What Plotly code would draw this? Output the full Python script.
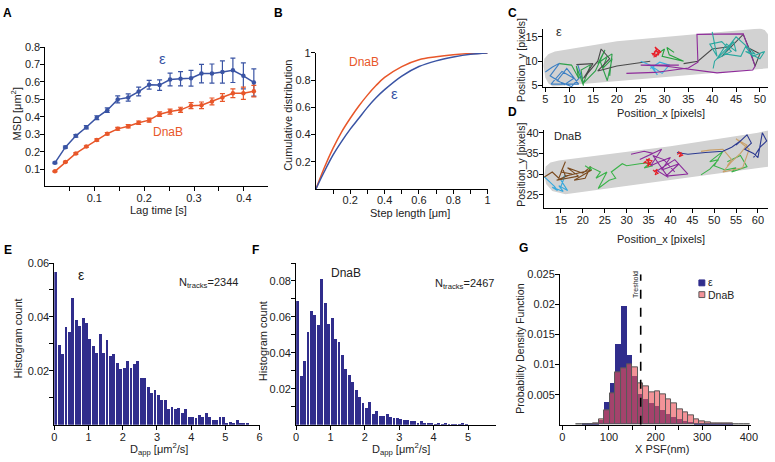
import plotly.graph_objects as go

FONT = "Liberation Sans, Arial, sans-serif"
W, H = 775, 462
BLUE = "#3A54A4"
ORANGE = "#E8572A"
NAVY = "#302D8C"
PINK = "rgba(236,80,88,0.62)"
TXT = "#222222"

# ---------------- A : MSD ----------------
lag_time = [0.021, 0.042, 0.063, 0.084, 0.105, 0.126, 0.147, 0.168, 0.189, 0.210,
            0.231, 0.252, 0.273, 0.294, 0.315, 0.336, 0.357, 0.378, 0.399, 0.420]
msd_eps = [0.136, 0.226, 0.291, 0.340, 0.395, 0.438, 0.500, 0.511, 0.545, 0.584,
           0.582, 0.614, 0.618, 0.621, 0.648, 0.648, 0.657, 0.667, 0.635, 0.597]
msd_eps_err = [0.004, 0.006, 0.007, 0.009, 0.011, 0.013, 0.020, 0.021, 0.025, 0.025,
               0.030, 0.037, 0.041, 0.045, 0.053, 0.055, 0.064, 0.070, 0.075, 0.078]
msd_dnab = [0.087, 0.141, 0.190, 0.229, 0.267, 0.303, 0.331, 0.346, 0.366, 0.381,
            0.415, 0.430, 0.440, 0.464, 0.466, 0.488, 0.511, 0.535, 0.535, 0.547]
msd_dnab_err = [0.003, 0.004, 0.005, 0.005, 0.006, 0.007, 0.008, 0.009, 0.010, 0.011,
                0.013, 0.014, 0.015, 0.017, 0.019, 0.020, 0.022, 0.025, 0.035, 0.033]

# ---------------- B : cumulative distribution ----------------
step_length = [0.0, 0.05, 0.10, 0.15, 0.20, 0.25, 0.30, 0.35, 0.40, 0.50, 0.60, 0.70, 0.80, 0.90, 1.00]
cdf_dnab = [0.0, 0.16, 0.30, 0.42, 0.52, 0.61, 0.69, 0.76, 0.82, 0.90, 0.95, 0.972, 0.987, 0.996, 1.0]
cdf_eps = [0.0, 0.13, 0.25, 0.35, 0.44, 0.52, 0.60, 0.67, 0.73, 0.83, 0.90, 0.942, 0.970, 0.990, 1.0]

# ---------------- C : epsilon tracks ----------------
cell_c_x = [6.6, 20.0, 35.0, 50.5, 52.5, 52.5, 51.0, 50.0, 35.0, 20.0, 7.0, 5.6, 4.8, 4.6, 5.0, 5.7, 6.6]
cell_c_y = [4.8, 5.9, 7.1, 8.3, 8.6, 14.5, 16.4, 16.7, 15.4, 14.1, 12.0, 11.4, 10.5, 9.0, 6.6, 5.4, 4.8]
tracks_c = {
    "#3B7FC4": ([5.0, 6.5, 8.0, 6.0, 9.0, 11.0, 8.5, 6.2, 12.0, 9.5, 7.5, 10.5, 12.5, 11.8, 13.0],
                [7.8, 8.8, 9.6, 7.0, 5.2, 6.5, 7.9, 5.3, 5.3, 8.5, 6.0, 4.8, 7.0, 9.3, 5.5]),
    "#2EA04A": ([8.0, 10.5, 12.0, 11.5, 13.0, 12.5, 14.5, 13.0, 15.5, 17.5, 16.0, 18.0, 17.0, 19.0, 18.0, 16.5, 19.0, 18.5],
                [9.5, 9.2, 6.5, 9.0, 5.0, 8.2, 9.3, 5.5, 8.0, 12.3, 9.5, 11.0, 8.5, 10.5, 6.0, 10.0, 11.5, 7.0]),
    "#4A4A4A": ([11.5, 15.0, 13.0, 16.0, 16.7, 18.5, 16.0, 20.0, 27.0, None,
                 34.0, 37.0, 40.0, 44.0, 42.0, 46.5, 48.0, 49.0, 50.0, 47.0],
                [9.3, 9.5, 6.5, 10.0, 12.5, 10.5, 8.0, 9.0, 10.0, None,
                 9.5, 10.0, 12.5, 13.0, 11.0, 15.5, 12.0, 9.0, 11.5, 13.0]),
    "#3AAFE0": ([25.0, 27.0, 28.5, 27.5, 29.5, 31.0, 29.0, 27.0],
                [10.0, 9.2, 7.2, 8.8, 7.5, 9.2, 9.8, 8.5]),
    "#8E2B9A": ([22.0, 28.0, 35.0, 37.0, 36.8, 46.5, 49.0, 48.5, 41.0, 30.0, 25.0, 33.0],
                [7.5, 7.7, 8.6, 9.8, 15.5, 15.6, 9.0, 8.2, 7.6, 9.0, 9.2, 9.2]),
    "#2AA8A0": ([40.0, 41.0, 39.5, 42.0, 44.0, 41.0, 43.0, 45.0, 44.5, 42.5, 46.0, 47.0, 48.5, 51.0, 50.0, 47.0, 49.0, 45.0, 43.0, 40.5, 40.2],
                [16.0, 11.0, 13.5, 14.0, 12.0, 10.5, 13.5, 12.0, 14.0, 11.5, 11.0, 13.0, 11.0, 12.0, 10.5, 12.0, 11.5, 15.0, 12.5, 10.0, 8.5]),
    "#27A33F": ([28.5, 30.0, 29.5, 34.0, 31.0, 30.5, 32.0],
                [11.5, 12.5, 11.0, 10.0, 11.3, 12.8, 11.8]),
    "#E8202A": ([27.5, 28.5, 27.8, 29.0, 28.2, 27.3, 28.8, 28.0, 29.2, 27.7],
                [11.2, 12.6, 11.8, 12.2, 10.9, 11.6, 11.3, 12.9, 11.9, 10.8]),
}

# ---------------- D : DnaB tracks ----------------
cell_d_x = [16.0, 40.0, 62.5, 62.5, 60.0, 40.0, 14.5, 12.6, 11.5, 11.2, 11.6, 13.0, 16.0]
cell_d_y = [25.1, 28.6, 31.8, 40.6, 40.0, 36.7, 33.3, 32.8, 31.8, 29.8, 27.6, 25.9, 25.1]
tracks_d = {
    "#35A8DD": ([11.2, 12.5, 13.5, 14.2, 13.0, 15.5, 14.5, 16.5, 15.0, 16.0, 14.8],
                [29.3, 28.0, 27.0, 26.0, 26.8, 25.8, 27.2, 26.0, 28.5, 29.8, 26.5]),
    "#7A4A1E": ([11.2, 13.0, 14.5, 16.0, 15.0, 17.5, 14.0, 19.0, 16.5, 20.0, 21.8, 20.5, 18.0, 22.0, 16.0, 15.5],
                [29.3, 30.5, 29.0, 33.0, 30.5, 30.0, 28.5, 29.5, 31.5, 30.2, 31.8, 29.0, 28.5, 31.0, 29.5, 31.0]),
    "#3BB34A": ([20.5, 22.0, 21.5, 24.0, 23.0, 25.5, 23.5, 26.0, 27.5, 26.5, 29.0, 30.0, 33.0, 35.5, 34.0, 36.0, None,
                 47.0, 49.0, 51.0, 49.0, 52.0, 50.0, 52.5, 55.0, 54.0, 57.5, 56.0, 53.0],
                [32.0, 31.0, 31.8, 30.5, 29.0, 30.5, 26.5, 28.5, 29.0, 30.5, 32.5, 32.0, 32.5, 32.8, 31.5, 32.0, None,
                 29.8, 31.2, 33.5, 33.0, 35.5, 32.0, 31.0, 31.5, 30.5, 31.8, 34.5, 33.0]),
    "#8B2A9B": ([31.0, 34.0, 36.0, 33.0, 38.0, 35.5, 37.5, 40.0, 38.0, 42.0, 39.0, 44.0, 41.0, 37.0, 39.5, 36.0, 38.5, 41.0],
                [34.8, 35.5, 35.0, 33.5, 36.0, 32.0, 33.0, 34.0, 31.0, 32.5, 29.5, 30.0, 33.5, 30.8, 29.2, 34.5, 33.5, 30.5]),
    "#C9A06A": ([47.0, 49.0, 52.0, 54.0, 53.0, 56.0, 57.5, 55.0, 58.0, 56.5, 52.0, 54.0],
                [35.5, 35.8, 36.0, 33.5, 32.0, 35.0, 37.0, 38.5, 36.0, 31.5, 30.5, 33.0]),
    "#2B3990": ([41.5, 44.0, 48.0, 52.0, 54.0, 56.0, 55.0, 57.5, 58.5, 57.0, 59.0, 60.0, 61.0, 62.0, 60.5, 59.0],
                [35.2, 34.8, 35.2, 35.5, 36.5, 38.0, 37.0, 39.5, 37.5, 36.0, 35.0, 34.0, 40.0, 38.0, 36.5, 34.0]),
    "#E41E26": ([34.0, 35.5, 34.5, 35.8, 34.8, 35.2, 33.8, None, 36.0, 37.2, 36.5, 37.0, 36.2, None, 41.5, 42.5, 42.0, 42.8, 41.8],
                [33.0, 32.2, 33.6, 33.2, 31.8, 33.8, 32.6, None, 31.0, 30.2, 29.8, 31.2, 30.5, None, 34.8, 35.2, 34.2, 34.6, 35.5]),
}

# ---------------- E / F : D_app histograms ----------------
dapp_bins_e = [0.05, 0.15, 0.25, 0.35, 0.45, 0.55, 0.65, 0.75, 0.85, 0.95,
               1.05, 1.15, 1.25, 1.35, 1.45, 1.55, 1.65, 1.75, 1.85, 1.95,
               2.05, 2.15, 2.25, 2.35, 2.45, 2.55, 2.65, 2.75, 2.85, 2.95,
               3.05, 3.15, 3.25, 3.35, 3.45, 3.55, 3.65, 3.75, 3.85, 3.95,
               4.05, 4.15, 4.25, 4.35, 4.45, 4.55, 4.65, 4.75, 4.85, 4.95,
               5.05, 5.15, 5.25, 5.35, 5.45, 5.55, 5.65]
hist_eps = [0.0566, 0.0295, 0.0262, 0.0363, 0.0343, 0.0471, 0.0387, 0.0365, 0.0397, 0.0376,
            0.0318, 0.0291, 0.0267, 0.0337, 0.0265, 0.0315, 0.0256, 0.0263, 0.0230, 0.0206,
            0.0210, 0.0236, 0.0210, 0.0224, 0.0236, 0.0172, 0.0172, 0.0139, 0.0117, 0.0127,
            0.0109, 0.0093, 0.0091, 0.0058, 0.0064, 0.0058, 0.0062, 0.0042, 0.0058, 0.0030,
            0.0030, 0.0024, 0.0036, 0.0027, 0.0042, 0.0030, 0.0018, 0.0016, 0.0027, 0.0027,
            0.0008, 0.0010, 0.0007, 0.0018, 0.0008, 0.0007, 0.0004]
dapp_bins_f = [0.05, 0.15, 0.25, 0.35, 0.45, 0.55, 0.65, 0.75, 0.85, 0.95,
               1.05, 1.15, 1.25, 1.35, 1.45, 1.55, 1.65, 1.75, 1.85, 1.95,
               2.05, 2.15, 2.25, 2.35, 2.45, 2.55, 2.65, 2.75, 2.85, 2.95,
               3.05, 3.15, 3.25, 3.35, 3.45, 3.55, 3.65, 3.75, 3.85, 3.95,
               4.05, 4.15, 4.25, 4.35, 4.45, 4.55, 4.65, 4.75, 4.85, 4.95]
hist_dnab = [0.0690, 0.0272, 0.0354, 0.0518, 0.0635, 0.0612, 0.0554, 0.0812, 0.0676, 0.0559,
             0.0595, 0.0477, 0.0459, 0.0390, 0.0308, 0.0278, 0.0236, 0.0194, 0.0154, 0.0123,
             0.0092, 0.0125, 0.0058, 0.0078, 0.0048, 0.0048, 0.0062, 0.0045, 0.0040, 0.0035,
             0.0030, 0.0028, 0.0028, 0.0018, 0.0018, 0.0010, 0.0020, 0.0012, 0.0008, 0.0006,
             0.0004, 0.0006, 0.0002, 0.0006, 0.0003, 0.0002, 0.0002, 0.0003, 0.0006, 0.0002]
n_tracks_eps = 2344
n_tracks_dnab = 2467

# ---------------- G : X PSF ----------------
psf_bins = [36, 48, 60, 72, 84, 96, 108, 120, 132, 144, 156, 168, 180, 192, 204, 216, 228,
            240, 252, 264, 276, 288, 300, 312, 324, 336, 348, 360, 372, 384, 396]
pdf_eps = [0.0000, 0.0001, 0.0001, 0.0002, 0.0008, 0.0037, 0.0068, 0.0134, 0.0196, 0.0116,
           0.0080, 0.0050, 0.0042, 0.0036, 0.0030, 0.0024, 0.0018, 0.0013, 0.0009, 0.0006,
           0.0004, 0.0003, 0.0002, 0.0002, 0.0001, 0.0001, 0.0001, 0.0001, 0.0000, 0.0000, 0.0000]
pdf_dnab = [0.0000, 0.0001, 0.0001, 0.0003, 0.0009, 0.0024, 0.0052, 0.0087, 0.0093, 0.0101,
            0.0095, 0.0068, 0.0064, 0.0054, 0.0055, 0.0050, 0.0042, 0.0035, 0.0026, 0.0020,
            0.0015, 0.0009, 0.0005, 0.0004, 0.0003, 0.0003, 0.0002, 0.0002, 0.0001, 0.0001, 0.0001]
threshold = 168


def dom_x(p0, p1):
    return [p0 / W, p1 / W]


def dom_y(top, bottom):
    return [1 - bottom / H, 1 - top / H]


def axis(domain, rng, anchor, tickvals, ticktext=None, minor_vals=None, standoff=-2):
    d = dict(domain=domain, range=rng, anchor=anchor, showline=True, linecolor="black",
             linewidth=1, ticks="outside", ticklen=4, tickwidth=1, tickcolor="black",
             showgrid=False, zeroline=False, fixedrange=True, ticklabelstandoff=standoff,
             tickfont=dict(size=11, color=TXT, family=FONT),
             tickmode="array", tickvals=tickvals,
             ticktext=ticktext if ticktext is not None else [str(v) for v in tickvals])
    if minor_vals is not None:
        d["minor"] = dict(tickmode="array", tickvals=minor_vals, ticks="outside", ticklen=4,
                          tickwidth=1, tickcolor="black", showgrid=False)
    return d


fig = go.Figure()

# A
fig.add_trace(go.Scatter(x=lag_time, y=msd_eps, mode="lines+markers", xaxis="x", yaxis="y",
                         line=dict(color=BLUE, width=1.5), marker=dict(size=4.5, color=BLUE),
                         error_y=dict(type="data", array=msd_eps_err, color=BLUE, thickness=1.2, width=2.5),
                         showlegend=False))
fig.add_trace(go.Scatter(x=lag_time, y=msd_dnab, mode="lines+markers", xaxis="x", yaxis="y",
                         line=dict(color=ORANGE, width=1.5), marker=dict(size=4.5, color=ORANGE),
                         error_y=dict(type="data", array=msd_dnab_err, color=ORANGE, thickness=1.2, width=2.5),
                         showlegend=False))
# B
fig.add_trace(go.Scatter(x=step_length, y=cdf_dnab, mode="lines", xaxis="x2", yaxis="y2",
                         line=dict(color=ORANGE, width=1.5, shape="spline"), showlegend=False))
fig.add_trace(go.Scatter(x=step_length, y=cdf_eps, mode="lines", xaxis="x2", yaxis="y2",
                         line=dict(color=BLUE, width=1.5, shape="spline"), showlegend=False))
# C
fig.add_trace(go.Scatter(x=cell_c_x, y=cell_c_y, mode="lines", fill="toself", fillcolor="#D2D2D2",
                         line=dict(width=0, color="#D2D2D2"), xaxis="x3", yaxis="y3", showlegend=False,
                         hoverinfo="skip"))
for col, (tx, ty) in tracks_c.items():
    fig.add_trace(go.Scatter(x=tx, y=ty, mode="lines", line=dict(color=col, width=1.1),
                             xaxis="x3", yaxis="y3", showlegend=False))
# D
fig.add_trace(go.Scatter(x=cell_d_x, y=cell_d_y, mode="lines", fill="toself", fillcolor="#D2D2D2",
                         line=dict(width=0, color="#D2D2D2"), xaxis="x4", yaxis="y4", showlegend=False,
                         hoverinfo="skip"))
for col, (tx, ty) in tracks_d.items():
    fig.add_trace(go.Scatter(x=tx, y=ty, mode="lines", line=dict(color=col, width=1.1),
                             xaxis="x4", yaxis="y4", showlegend=False))
# E, F
fig.add_trace(go.Bar(x=dapp_bins_e, y=hist_eps, width=0.084, marker=dict(color=NAVY, line=dict(width=0)),
                     xaxis="x5", yaxis="y5", showlegend=False))
fig.add_trace(go.Bar(x=dapp_bins_f, y=hist_dnab, width=0.084, marker=dict(color=NAVY, line=dict(width=0)),
                     xaxis="x6", yaxis="y6", showlegend=False))
# G
fig.add_trace(go.Bar(x=psf_bins, y=pdf_eps, width=12, name="ε", showlegend=False,
                     marker=dict(color=NAVY, line=dict(width=0)), xaxis="x7", yaxis="y7"))
fig.add_trace(go.Bar(x=psf_bins, y=pdf_dnab, width=12, name="DnaB", showlegend=False,
                     marker=dict(color=PINK, line=dict(width=1, color="#5A5A5A")),
                     xaxis="x7", yaxis="y7"))

fig.update_layout(
    width=W, height=H, margin=dict(l=0, r=0, t=0, b=0),
    paper_bgcolor="white", plot_bgcolor="rgba(0,0,0,0)",
    font=dict(family=FONT, size=11, color=TXT),
    barmode="overlay", bargap=0, showlegend=False,
    xaxis=axis(dom_x(43, 268), [0.002, 0.4475], "y", [0.1, 0.2, 0.3, 0.4], None,
               [0.05, 0.15, 0.25, 0.35]),
    yaxis=axis(dom_y(42, 184), [0.003, 0.8], "x", [0.1, 0.2, 0.3, 0.4, 0.5, 0.6, 0.7, 0.8]),
    xaxis2=axis(dom_x(317, 491), [0, 1], "y2", [0.2, 0.4, 0.6, 0.8, 1.0],
                ["0.2", "0.4", "0.6", "0.8", "1"], [0.1, 0.3, 0.5, 0.7, 0.9], standoff=-3),
    yaxis2=axis(dom_y(48, 187), [0, 1], "x2", [0.2, 0.4, 0.6, 0.8, 1.0], ["0.2", "0.4", "0.6", "0.8", "1"]),
    xaxis3=axis(dom_x(547, 775), [4.5, 51.7], "y3", [5, 10, 15, 20, 25, 30, 35, 40, 45, 50]),
    yaxis3=axis(dom_y(23, 83), [4.67, 16.7], "x3", [5, 10, 15]),
    xaxis4=axis(dom_x(548, 775), [11.1, 62.3], "y4", [15, 20, 25, 30, 35, 40, 45, 50, 55, 60]),
    yaxis4=axis(dom_y(127, 206), [21.9, 40.6], "x4", [25, 30, 35, 40]),
    xaxis5=axis(dom_x(52, 260), [0, 6], "y5", [0, 1, 2, 3, 4, 5, 6]),
    yaxis5=axis(dom_y(262.7, 428), [0, 0.06], "x5", [0.02, 0.04, 0.06], None, [0.01, 0.03, 0.05]),
    xaxis6=axis(dom_x(297, 499), [0, 5.8], "y6", [0, 1, 2, 3, 4, 5]),
    yaxis6=axis(dom_y(262.7, 428), [0, 0.09], "x6", [0.02, 0.04, 0.06, 0.08], None,
                [0.01, 0.03, 0.05, 0.07, 0.09]),
    xaxis7=axis(dom_x(564.3, 758), [-5, 405], "y7", [0, 100, 200, 300, 400], None, [50, 150, 250, 350]),
    yaxis7=axis(dom_y(274.3, 428), [0, 0.025], "x7", [0.005, 0.01, 0.015, 0.02, 0.025],
                ["0.005", "0.01", "0.015", "0.02", "0.025"]),
)

# threshold line in G
fig.add_shape(type="line", xref="x7", yref="y7", x0=threshold, x1=threshold, y0=0, y1=0.025,
              line=dict(color="black", width=1.6, dash="dash"))

# legend of G (drawn by hand to match the compact original)
for (top, fill, edge) in [(280, NAVY, NAVY), (292, PINK, "#5A5A5A")]:
    fig.add_shape(type="rect", xref="paper", yref="paper", x0=705 / W, x1=711 / W,
                  y0=1 - (top + 6) / H, y1=1 - top / H, fillcolor=fill, line=dict(color=edge, width=1))


def pa(text, px, py, size=11, color=TXT, angle=0, xanchor="center", bold=False):
    return dict(text=("<b>%s</b>" % text) if bold else text, x=px / W, y=1 - py / H,
                xref="paper", yref="paper", showarrow=False, textangle=angle, borderpad=0,
                xanchor=xanchor, yanchor="middle", font=dict(size=size, color=color, family=FONT))


ann = []
# panel letters
for letter, px, py in [("A", 5, 7), ("B", 279, 7), ("C", 516, 7), ("D", 516, 108),
                       ("E", 5, 249), ("F", 256, 249), ("G", 527, 247)]:
    ann.append(pa(letter, px, py, size=12, color="black", bold=True))
# axis titles
ann += [
    pa("MSD [μm<sup>2</sup>]", 13, 110, angle=-90),
    pa("Lag time [s]", 158, 209),
    pa("Cumulative distribution", 288, 112, angle=-90),
    pa("Step length [μm]", 412, 212),
    pa("Position_y [pixels]", 525, 55, size=10.5, angle=-90),
    pa("Position_x [pixels]", 667, 109),
    pa("Position_y [pixels]", 525, 162, size=10.5, angle=-90),
    pa("Position_x [pixels]", 667, 238),
    pa("Histogram count", 15, 340, angle=-90),
    pa("D<sub>app</sub> [μm<sup>2</sup>/s]", 158, 453),
    pa("Histogram count", 263, 343, angle=-90),
    pa("D<sub>app</sub> [μm<sup>2</sup>/s]", 403, 453),
    pa("Probability Density Function", 524, 350, size=10.5, angle=-90),
    pa("X PSF(nm)", 668, 453),
    # G legend text
    pa("ε", 713, 282.5, size=10.5, xanchor="left"),
    pa("DnaB", 713, 295.5, size=10.5, xanchor="left"),
    # threshold label
    pa("Treshold", 641.5, 285, size=7, angle=-90),
]
# in-plot labels
ann += [
    dict(text="ε", x=0.237, y=0.735, xref="x", yref="y", showarrow=False, font=dict(size=15, color=BLUE)),
    dict(text="DnaB", x=0.2475, y=0.311, xref="x", yref="y", showarrow=False, font=dict(size=12, color=ORANGE)),
    dict(text="DnaB", x=0.28, y=0.937, xref="x2", yref="y2", showarrow=False, font=dict(size=12, color=ORANGE)),
    dict(text="ε", x=0.458, y=0.70, xref="x2", yref="y2", showarrow=False, font=dict(size=15, color=BLUE)),
    dict(text="ε", x=7.9, y=16.0, xref="x3", yref="y3", showarrow=False, font=dict(size=13, color="#333")),
    dict(text="DnaB", x=12.9, y=39.1, xref="x4", yref="y4", showarrow=False, xanchor="left",
         font=dict(size=11, color=TXT)),
    dict(text="ε", x=0.79, y=0.0556, xref="x5", yref="y5", showarrow=False, font=dict(size=14, color=TXT)),
    dict(text="N<sub>tracks</sub>=%d" % n_tracks_eps, x=3.58, y=0.0524, xref="x5", yref="y5",
         showarrow=False, xanchor="left", font=dict(size=11, color=TXT)),
    dict(text="DnaB", x=1.44, y=0.0843, xref="x6", yref="y6", showarrow=False, font=dict(size=12, color=TXT)),
    dict(text="N<sub>tracks</sub>=%d" % n_tracks_dnab, x=3.97, y=0.0785, xref="x6", yref="y6",
         showarrow=False, xanchor="left", font=dict(size=11, color=TXT)),
]
fig.update_layout(annotations=ann)

fig.write_html("out.html", config={"displayModeBar": False},
               post_script="document.body.style.margin='0px';")
